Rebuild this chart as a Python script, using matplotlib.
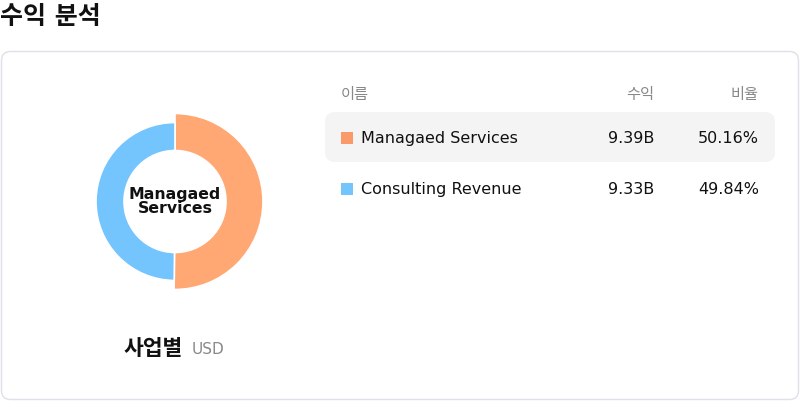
import matplotlib
matplotlib.use('Agg')
import matplotlib.pyplot as plt
from matplotlib.patches import FancyBboxPatch, Rectangle

plt.rcParams['font.family'] = ['DejaVu Sans', 'Noto Sans CJK KR']

# data
names = ['Managaed Services', 'Consulting Revenue']
revenue_b = [9.39, 9.33]
share = [50.16, 49.84]
pie_colors = ['#ffa873', '#74c4fd']
box_colors = ['#fa9a68', '#74c4fd']
headers = ['이름', '수익', '비율']

W, H = 800, 402
fig = plt.figure(figsize=(W / 100, H / 100), dpi=100)

# background axes in pixel coords
ax = fig.add_axes([0, 0, 1, 1])
ax.set_xlim(0, W)
ax.set_ylim(H, 0)
ax.axis('off')

ax.text(0, 17, '수익 분석', fontsize=18, fontweight='bold', va='center', ha='left',
        color='#111111')

card = FancyBboxPatch((1.5, 52.5), 797, 348, boxstyle='round,pad=0,rounding_size=9',
                      facecolor='white', edgecolor='#e0dfea', linewidth=1)
ax.add_patch(card)

# table
ax.text(341, 95, headers[0], fontsize=11, color='#888888', va='center', ha='left')
ax.text(654, 95, headers[1], fontsize=11, color='#888888', va='center', ha='right')
ax.text(759, 95, headers[2], fontsize=11, color='#888888', va='center', ha='right')

row_y = [138.5, 189.5]
hl = FancyBboxPatch((325, 113), 450, 50, boxstyle='round,pad=0,rounding_size=10',
                    facecolor='#f4f4f4', edgecolor='none')
ax.add_patch(hl)
for i, name in enumerate(names):
    y = row_y[i]
    ax.add_patch(Rectangle((341, y - 6), 12, 12, facecolor=box_colors[i], edgecolor='none'))
    ax.text(361, y, name, fontsize=11.5, color='#111111', va='center', ha='left')
    ax.text(654, y, f'{revenue_b[i]:.2f}B', fontsize=11.5, color='#111111', va='center', ha='right')
    ax.text(759, y, f'{share[i]:.2f}%', fontsize=11.5, color='#111111', va='center', ha='right')

# footer label
ax.text(124, 349, '사업별', fontsize=15.5, fontweight='bold', color='#111111', va='center', ha='left')
ax.text(192, 350, 'USD', fontsize=11, color='#888888', va='center', ha='left')

# donut
cx, cy, half = 175, 202.5, 100
axd = fig.add_axes([(cx - half) / W, (H - cy - half) / H, 2 * half / W, 2 * half / H])
wedges, _ = axd.pie(share, colors=pie_colors, startangle=90, counterclock=False,
                    radius=88, wedgeprops=dict(edgecolor='white', linewidth=1.2))
inner = 51
wedges[0].set_radius(88)
wedges[0].set_width(88 - inner)
wedges[1].set_radius(79)
wedges[1].set_width(79 - inner)
axd.set_xlim(-half, half)
axd.set_ylim(-half, half)
axd.set_aspect('equal')
axd.axis('off')
axd.text(0, 1, 'Managaed\nServices', fontsize=11.3, fontweight='bold', ha='center',
         va='center', linespacing=0.95, color='#111111')

fig.savefig('out.png', dpi=100)
